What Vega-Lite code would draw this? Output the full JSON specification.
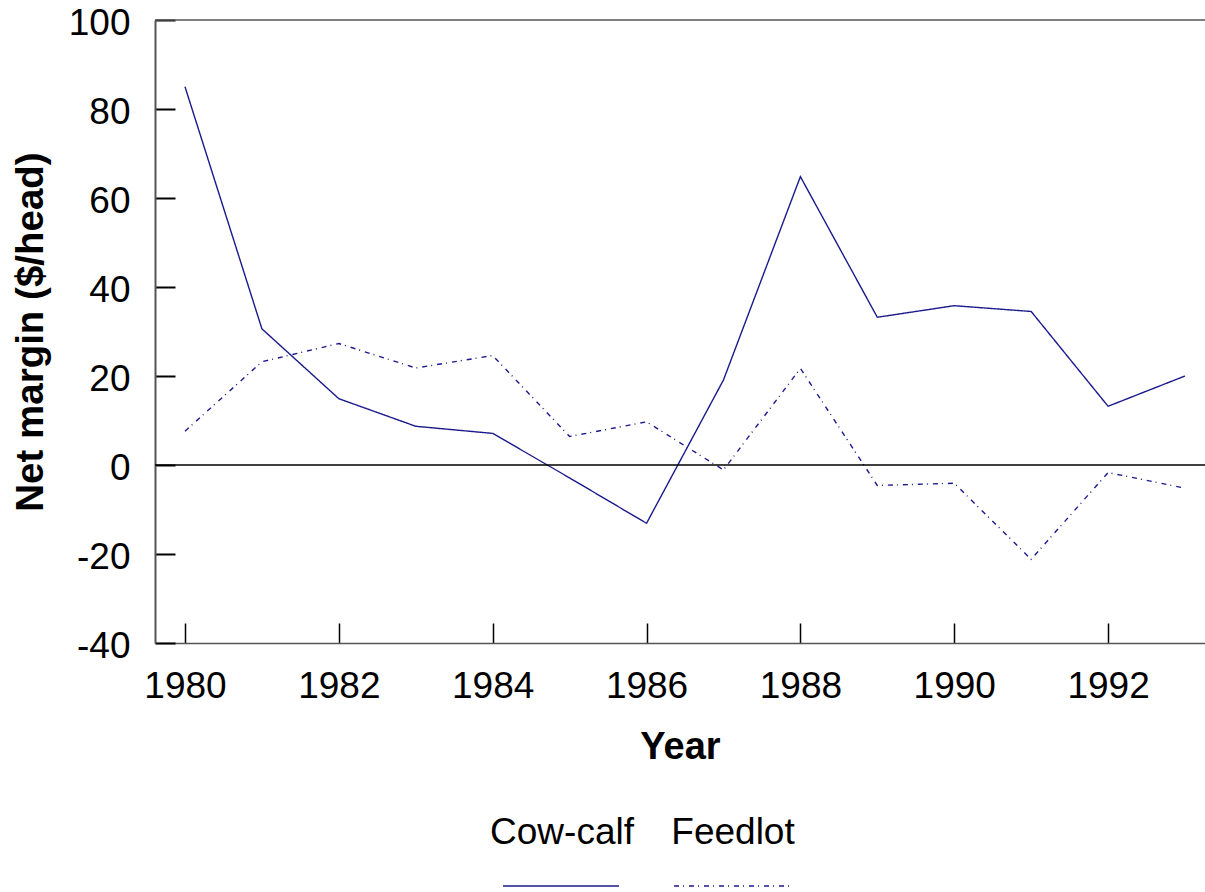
{
  "$schema": "https://vega.github.io/schema/vega-lite/v6.json",
  "width": 1050,
  "height": 623,
  "autosize": {"type": "none"},
  "padding": {"left": 155, "top": 20, "right": 0, "bottom": 249},
  "background": "white",
  "config": {
    "view": {"stroke": null},
    "font": "Liberation Sans",
    "axis": {"grid": false}
  },
  "data": {
    "values": [
      {"year": 1980, "series": "Cow-calf", "margin": 85.0},
      {"year": 1981, "series": "Cow-calf", "margin": 30.6},
      {"year": 1982, "series": "Cow-calf", "margin": 14.9},
      {"year": 1983, "series": "Cow-calf", "margin": 8.7},
      {"year": 1984, "series": "Cow-calf", "margin": 7.1},
      {"year": 1985, "series": "Cow-calf", "margin": -2.9},
      {"year": 1986, "series": "Cow-calf", "margin": -13.1},
      {"year": 1987, "series": "Cow-calf", "margin": 19.1},
      {"year": 1988, "series": "Cow-calf", "margin": 64.8},
      {"year": 1989, "series": "Cow-calf", "margin": 33.2},
      {"year": 1990, "series": "Cow-calf", "margin": 35.8},
      {"year": 1991, "series": "Cow-calf", "margin": 34.5},
      {"year": 1992, "series": "Cow-calf", "margin": 13.2},
      {"year": 1993, "series": "Cow-calf", "margin": 20.0},
      {"year": 1980, "series": "Feedlot", "margin": 7.6},
      {"year": 1981, "series": "Feedlot", "margin": 23.2},
      {"year": 1982, "series": "Feedlot", "margin": 27.3},
      {"year": 1983, "series": "Feedlot", "margin": 21.8},
      {"year": 1984, "series": "Feedlot", "margin": 24.6},
      {"year": 1985, "series": "Feedlot", "margin": 6.4},
      {"year": 1986, "series": "Feedlot", "margin": 9.7},
      {"year": 1987, "series": "Feedlot", "margin": -1.1},
      {"year": 1988, "series": "Feedlot", "margin": 21.7},
      {"year": 1989, "series": "Feedlot", "margin": -4.6},
      {"year": 1990, "series": "Feedlot", "margin": -4.1},
      {"year": 1991, "series": "Feedlot", "margin": -21.2},
      {"year": 1992, "series": "Feedlot", "margin": -1.7},
      {"year": 1993, "series": "Feedlot", "margin": -5.2}
    ]
  },
  "layer": [
    {
      "mark": {"type": "line", "color": "#1a1a8c", "strokeWidth": 1.4, "clip": true},
      "encoding": {
        "x": {
          "field": "year", "type": "quantitative",
          "scale": {"domain": [1979.61, 1993.26], "nice": false, "zero": false},
          "axis": {
            "values": [1980, 1982, 1984, 1986, 1988, 1990, 1992],
            "format": "d",
            "title": "Year",
            "titleFontSize": 38, "titleFontWeight": "bold", "titleColor": "black", "titlePadding": 24,
            "labelFontSize": 37, "labelColor": "black", "labelPadding": 45, "labelFlush": false,
            "tickSize": -20, "tickColor": "black", "tickWidth": 1.5,
            "domainColor": "#555555", "domainWidth": 1.5
          }
        },
        "y": {
          "field": "margin", "type": "quantitative",
          "scale": {"domain": [-40, 100], "nice": false},
          "axis": {
            "values": [-40, -20, 0, 20, 40, 60, 80, 100],
            "labelExpr": "'' + datum.value",
            "title": "Net margin ($/head)",
            "titleFontSize": 38.5, "titleFontWeight": "bold", "titleColor": "black", "titlePadding": 18,
            "labelFontSize": 37, "labelColor": "black", "labelPadding": 45, "labelFlush": false,
            "labelOffset": 3,
            "tickSize": -20, "tickColor": "black", "tickWidth": 2,
            "domainColor": "#555555", "domainWidth": 2
          }
        },
        "strokeDash": {
          "field": "series", "type": "nominal",
          "scale": {"domain": ["Cow-calf", "Feedlot"], "range": [[1, 0], [5, 4, 1, 5]]},
          "legend": {
            "orient": "none",
            "legendX": 347,
            "legendY": 765,
            "direction": "horizontal",
            "title": null,
            "symbolType": "M-1,0.72H1",
            "symbolSize": 13456,
            "symbolStrokeColor": "#1a1a8c",
            "symbolStrokeWidth": 1.4,
            "symbolFillColor": "transparent",
            "labelFontSize": 37,
            "labelColor": "black",
            "labelAlign": "center",
            "labelBaseline": "alphabetic",
            "labelOffset": -58,
            "labelLimit": 400,
            "columnPadding": 37
          }
        }
      }
    },
    {
      "data": {"values": [{"z": 0}]},
      "mark": {"type": "rule", "color": "black", "strokeWidth": 1.5},
      "encoding": {"y": {"datum": 0}}
    },
    {
      "data": {"values": [{"z": 100}]},
      "mark": {"type": "rule", "color": "#555555", "strokeWidth": 1.5},
      "encoding": {"y": {"datum": 100}}
    }
  ]
}
